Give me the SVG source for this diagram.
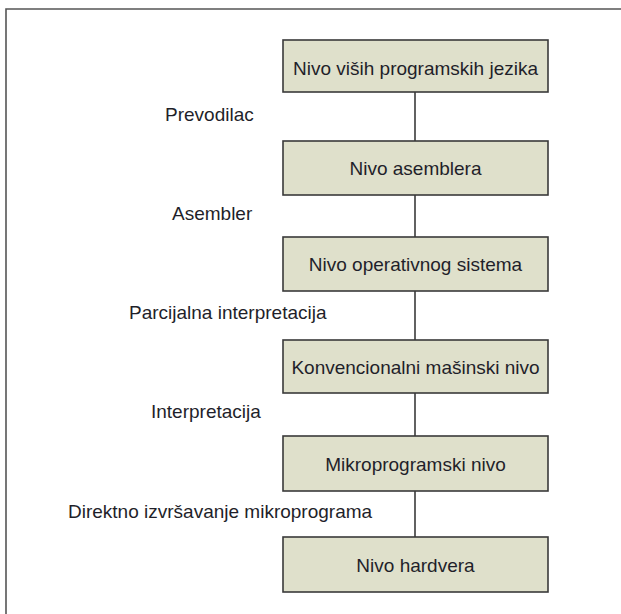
<svg xmlns="http://www.w3.org/2000/svg" width="621" height="614" viewBox="0 0 621 614">
<style>
.box rect{fill:#dfe0cb;stroke:#3a3a3a;stroke-width:1.6}
.box text{font-family:"Liberation Sans",Arial,sans-serif;font-size:19px;fill:#1f1f2a;text-anchor:middle}
.lbl{font-family:"Liberation Sans",Arial,sans-serif;font-size:19px;fill:#1f1f2a}
#connectors line{stroke:#3a3a3a;stroke-width:1.6}
</style>
<rect width="621" height="614" fill="#ffffff"/>
<path d="M6,614 V9 H621" fill="none" stroke="#555" stroke-width="1.6"/>
<g id="connectors">
<line x1="415" y1="92" x2="415" y2="141"/>
<line x1="415" y1="195" x2="415" y2="237"/>
<line x1="415" y1="291" x2="415" y2="340"/>
<line x1="415" y1="393" x2="415" y2="436"/>
<line x1="415" y1="491" x2="415" y2="537"/>
</g>
<g id="n1" class="box"><rect x="283" y="40" width="265" height="52"/><text x="415.5" y="75">Nivo viših programskih jezika</text></g>
<g id="n2" class="box"><rect x="283" y="141" width="265" height="54"/><text x="415.5" y="175">Nivo asemblera</text></g>
<g id="n3" class="box"><rect x="283" y="237" width="265" height="54"/><text x="415.5" y="271">Nivo operativnog sistema</text></g>
<g id="n4" class="box"><rect x="283" y="340" width="265" height="53"/><text x="415.5" y="373.5">Konvencionalni mašinski nivo</text></g>
<g id="n5" class="box"><rect x="283" y="436" width="265" height="55"/><text x="415.5" y="470.5">Mikroprogramski nivo</text></g>
<g id="n6" class="box"><rect x="283" y="537" width="265" height="55"/><text x="415.5" y="571.5">Nivo hardvera</text></g>
<g id="labels">
<text class="lbl" x="165" y="121">Prevodilac</text>
<text class="lbl" x="172" y="220">Asembler</text>
<text class="lbl" x="129" y="319">Parcijalna interpretacija</text>
<text class="lbl" x="151" y="418">Interpretacija</text>
<text class="lbl" x="68" y="518">Direktno izvršavanje mikroprograma</text>
</g>
</svg>
